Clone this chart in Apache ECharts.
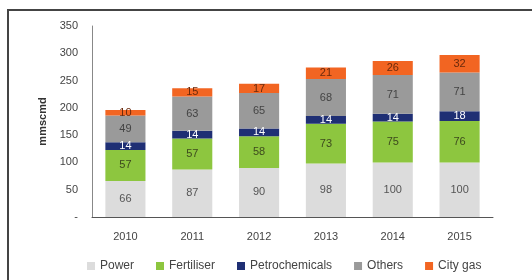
<!DOCTYPE html>
<html>
<head>
<meta charset="utf-8">
<script src="https://cdn.jsdelivr.net/npm/echarts@6/dist/echarts.min.js"></script>
<style>
  html, body { margin: 0; padding: 0; background: #fff; }
  #frame { position: absolute; left: 7px; top: 9px; width: 540px; height: 300px; border: 2px solid #444; }
  #chart { position: absolute; left: 0; top: 0; width: 532px; height: 280px; }
</style>
</head>
<body>
<div id="frame"></div>
<div id="chart"></div>
<script>
const years = ['2010', '2011', '2012', '2013', '2014', '2015'];
const power = [66, 87, 90, 98, 100, 100];
const fertiliser = [57, 57, 58, 73, 75, 76];
const petrochemicals = [14, 14, 14, 14, 14, 18];
const others = [49, 63, 65, 68, 71, 71];
const cityGas = [10, 15, 17, 21, 26, 32];

const chart = echarts.init(document.getElementById('chart'));

const font = 'Liberation Sans, Arial, sans-serif';

const makeSeries = (name, data, color, labelColor) => ({
    name,
    type: 'bar',
    stack: 'total',
    data,
    barWidth: '60%',
    itemStyle: { color },
    label: {
        show: true,
        position: 'inside',
        color: labelColor,
        fontSize: 11,
        fontFamily: font,
    },
});

chart.setOption({
    backgroundColor: 'transparent',
    textStyle: { fontFamily: font },
    animation: false,
    grid: { left: 92, right: 39, top: 26, bottom: 63 },
    legend: {
        bottom: 3,
        left: 82,
        itemWidth: 8,
        itemHeight: 8,
        itemGap: 22,
        icon: 'rect',
        textStyle: { color: '#444', fontSize: 12 },
        data: ['Power', 'Fertiliser', 'Petrochemicals', 'Others', 'City gas'],
    },
    xAxis: {
        type: 'category',
        data: years,
        axisLine: { lineStyle: { color: '#555', width: 1 } },
        axisTick: { show: false },
        axisLabel: { color: '#444', fontSize: 11, margin: 14 },
    },
    yAxis: {
        type: 'value',
        min: 0,
        max: 350,
        interval: 50,
        name: 'mmscmd',
        nameLocation: 'middle',
        nameGap: 44,
        nameTextStyle: { color: '#333', fontSize: 11, fontWeight: 'bold' },
        axisLine: { show: true, lineStyle: { color: '#888' } },
        axisTick: { show: false },
        splitLine: { show: false },
        axisLabel: {
            color: '#444',
            fontSize: 11,
            margin: 14,
            formatter: (v) => (v === 0 ? '-' : v),
        },
    },
    series: [
        makeSeries('Power', power, '#dcdcdc', '#555'),
        makeSeries('Fertiliser', fertiliser, '#8dc63f', '#3d4a1e'),
        makeSeries('Petrochemicals', petrochemicals, '#1f2f74', '#fff'),
        makeSeries('Others', others, '#9a9a9a', '#444'),
        makeSeries('City gas', cityGas, '#f26522', '#6b2a0c'),
    ],
});
</script>
</body>
</html>
